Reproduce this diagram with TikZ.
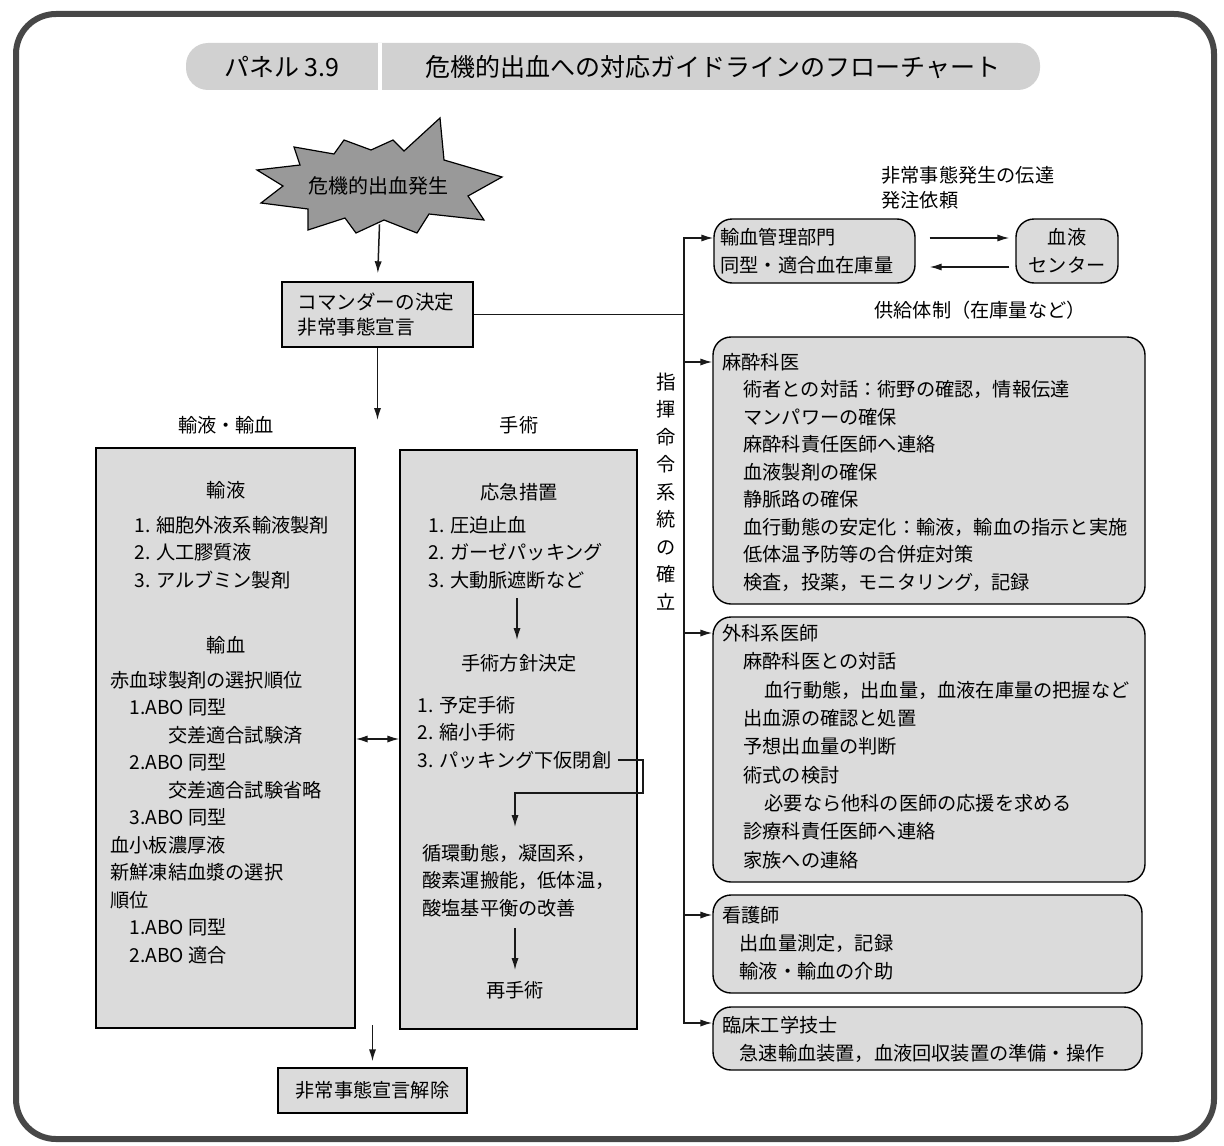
\documentclass[tikz,border=0pt]{standalone}
\usepackage{fontspec}
\setmainfont{Noto Sans CJK JP}
\usetikzlibrary{arrows.meta,fit}
\begin{document}
\begin{tikzpicture}[x=0.5pt,y=-0.5pt,
  txt/.style={inner sep=0pt, font=\fontsize{9.6}{13.75}\selectfont, align=left},
  ttl/.style={inner sep=0pt, font=\fontsize{12.5}{15}\selectfont},
  sqbox/.style={draw=black, line width=0.7pt, fill=black!14, inner sep=0pt},
  rdbox/.style={sqbox, rounded corners=9pt},
  lnk/.style={line width=0.75pt, black!90},
  arr/.style={lnk, -{Latex[length=6pt,width=3.6pt]}},
  darr/.style={lnk, {Latex[length=6pt,width=3.6pt]}-{Latex[length=6pt,width=3.6pt]}}
]
\useasboundingbox (0,0) rectangle (1224,1145);
% outer frame
\draw[line width=3pt, black!72, rounded corners=20pt] (16,14) rectangle (1214,1139);

% title pill
\node[fit={(186,43) (1040,90)}, inner sep=0pt, fill=black!18, rounded corners=11pt] (pill) {};
\draw[white, line width=1.6pt] (380,43) -- (380,90);
\node[ttl] (panel) at (282,67) {パネル 3.9};
\node[ttl, anchor=west] (title) at (425,67) {危機的出血への対応ガイドラインのフローチャート};

% starburst
\filldraw[fill=black!40, draw=black, line width=0.6pt]
  (257,170) -- (300,165) -- (294,147) -- (334,154) -- (344,140) -- (371,150)
  -- (393,140) -- (404,151) -- (440,118) -- (444,160) -- (502,177) -- (468,196)
  -- (484,220) -- (429,214) -- (417,233) -- (384,220) -- (356,233) -- (345,218)
  -- (308,230) -- (308,209) -- (261,203) -- (283,186) -- cycle;
\node[fit={(257,126) (502,224)}, inner sep=0pt] (burst) {};
\node[txt, font=\fontsize{10}{12}\selectfont] (bursttxt) at (378,186) {危機的出血発生};

% commander
\node[sqbox, fit={(282,282) (473,347)}] (cmd) {};
\node[txt, anchor=west, font=\fontsize{9.8}{12.5}\selectfont] (cmdtxt) at (297,315) {コマンダーの決定\\非常事態宣言};
\draw[arr, shorten >=4pt] (burst.south) -- (cmd.north);

% command line
\coordinate (vtop) at (684,238);
\coordinate (vbot) at (684,1023);
\coordinate (split) at (377.5,420);
\draw[lnk] (cmd.east) -- (cmd.east -| vtop);
\draw[arr] (cmd.south) -- (split);
\node[txt] (vert) at (666,493.5) {\begin{tabular}{@{}c@{}}\fontsize{9.8}{11.5}\selectfont 指\\揮\\命\\令\\系\\統\\の\\確\\立\end{tabular}};

% branch labels
\node[txt] (lblL) at (226,425) {輸液・輸血};
\node[txt] (lblR) at (519,425) {手術};

% left box
\node[sqbox, fit={(96,448) (355,1028)}] (lbox) {};
\node[txt] (ly) at (226,490) {輸液};
\node[txt, anchor=west] (lylist) at (134,552.5) {1. 細胞外液系輸液製剤\\2. 人工膠質液\\3. アルブミン製剤};
\node[txt] (lk) at (226,645) {輸血};
\node[txt, anchor=west] (lklist) at (110,817.5) {赤血球製剤の選択順位\\
\hspace*{1em}1.ABO 同型\\
\hspace*{3em}交差適合試験済\\
\hspace*{1em}2.ABO 同型\\
\hspace*{3em}交差適合試験省略\\
\hspace*{1em}3.ABO 同型\\
血小板濃厚液\\
新鮮凍結血漿の選択\\
順位\\
\hspace*{1em}1.ABO 同型\\
\hspace*{1em}2.ABO 適合};

% surgery box
\node[sqbox, fit={(400,450) (637,1029)}] (sbox) {};
\node[txt] (ok) at (519,492) {応急措置};
\node[txt, anchor=west] (oklist) at (428,552.5) {1. 圧迫止血\\2. ガーゼパッキング\\3. 大動脈遮断など};
\node[txt] (hs) at (519,663) {手術方針決定};
\node[txt, anchor=west] (hslist) at (417,718.5) {1. 予定手術\\2. 縮小手術};
\node[txt, anchor=west] (pk3) at (417,760) {3. パッキング下仮閉創};
\node[txt, anchor=west] (kz) at (422,880.5) {循環動態，凝固系，\\酸素運搬能，低体温，\\酸塩基平衡の改善};
\node[txt] (rs) at (515,990) {再手術};
\coordinate (a1s) at (517,598);
\coordinate (a1e) at (517,640);
\draw[arr] (a1s) -- (a1e);
\coordinate (pkA) at (643,760);
\coordinate (pkB) at (643,793);
\coordinate (pkC) at (515,793);
\coordinate (pkD) at (515,827);
\draw[arr] ([xshift=3pt]pk3.east) -- (pkA) -- (pkB) -- (pkC) -- (pkD);
\coordinate (a2s) at (515,928);
\coordinate (a2e) at (515,970);
\draw[arr] (a2s) -- (a2e);

% double arrow between columns
\coordinate (dd) at (377,739);
\draw[darr] (dd -| lbox.east) -- (dd -| sbox.west);

% end
\node[sqbox, fit={(278,1068) (467,1113)}] (endbox) {};
\node[txt] (endtxt) at (372.5,1090.5) {非常事態宣言解除};
\coordinate (endsrc) at (372.5,1025);
\draw[arr, shorten >=3pt] (endsrc) -- (endbox.north);

% right column
\node[txt, anchor=west, font=\fontsize{9.6}{12.5}\selectfont] (notice) at (881,187.5) {非常事態発生の伝達\\発注依頼};
\node[rdbox, fit={(714,219) (915,283)}] (yk) {};
\node[txt, anchor=west, font=\fontsize{9.6}{14}\selectfont] (yktxt) at (720,251) {輸血管理部門\\同型・適合血在庫量};
\node[rdbox, fit={(1016,219) (1118,283)}] (bc) {};
\node[txt, align=center, font=\fontsize{9.6}{14}\selectfont] (bctxt) at (1067,251) {血液\\センター};
\coordinate (yr) at (800,238);
\coordinate (yl) at (800,267);
\draw[arr, shorten <=7pt, shorten >=3pt] (yr -| yk.east) -- (yr -| bc.west);
\draw[arr, shorten <=3pt, shorten >=7pt] (yl -| bc.west) -- (yl -| yk.east);
\node[txt] (supply) at (980,310) {供給体制（在庫量など）};

\node[rdbox, fit={(713,337) (1145,604)}] (ms) {};
\node[txt, anchor=west] (mstxt) at (722,472) {麻酔科医\\
\hspace*{1.1em}術者との対話：術野の確認，情報伝達\\
\hspace*{1.1em}マンパワーの確保\\
\hspace*{1.1em}麻酔科責任医師へ連絡\\
\hspace*{1.1em}血液製剤の確保\\
\hspace*{1.1em}静脈路の確保\\
\hspace*{1.1em}血行動態の安定化：輸液，輸血の指示と実施\\
\hspace*{1.1em}低体温予防等の合併症対策\\
\hspace*{1.1em}検査，投薬，モニタリング，記録};

\node[rdbox, fit={(713,617) (1145,882)}] (gk) {};
\node[txt, anchor=west, font=\fontsize{9.6}{14.19}\selectfont] (gktxt) at (722,746.5) {外科系医師\\
\hspace*{1.1em}麻酔科医との対話\\
\hspace*{2.2em}血行動態，出血量，血液在庫量の把握など\\
\hspace*{1.1em}出血源の確認と処置\\
\hspace*{1.1em}予想出血量の判断\\
\hspace*{1.1em}術式の検討\\
\hspace*{2.2em}必要なら他科の医師の応援を求める\\
\hspace*{1.1em}診療科責任医師へ連絡\\
\hspace*{1.1em}家族への連絡};

\node[rdbox, fit={(713,895) (1142,993)}] (kg) {};
\node[txt, anchor=west, font=\fontsize{9.6}{14}\selectfont] (kgtxt) at (722,943) {看護師\\
\hspace*{0.9em}出血量測定，記録\\
\hspace*{0.9em}輸液・輸血の介助};

\node[rdbox, fit={(713,1007) (1142,1070)}] (rs2) {};
\node[txt, anchor=west, font=\fontsize{9.6}{14}\selectfont] (rstxt) at (722,1039) {臨床工学技士\\
\hspace*{0.9em}急速輸血装置，血液回収装置の準備・操作};

% command line and branches
\draw[arr] (vbot) -- (vtop) -- (vtop -| yk.west);
\draw[arr] (vtop) -- (vbot) -- (vbot -| rs2.west);
\coordinate (b2) at (684,362);
\coordinate (b3) at (684,633);
\coordinate (b4) at (684,915);
\draw[arr] (b2) -- (b2 -| ms.west);
\draw[arr] (b3) -- (b3 -| gk.west);
\draw[arr] (b4) -- (b4 -| kg.west);
\end{tikzpicture}
\end{document}
